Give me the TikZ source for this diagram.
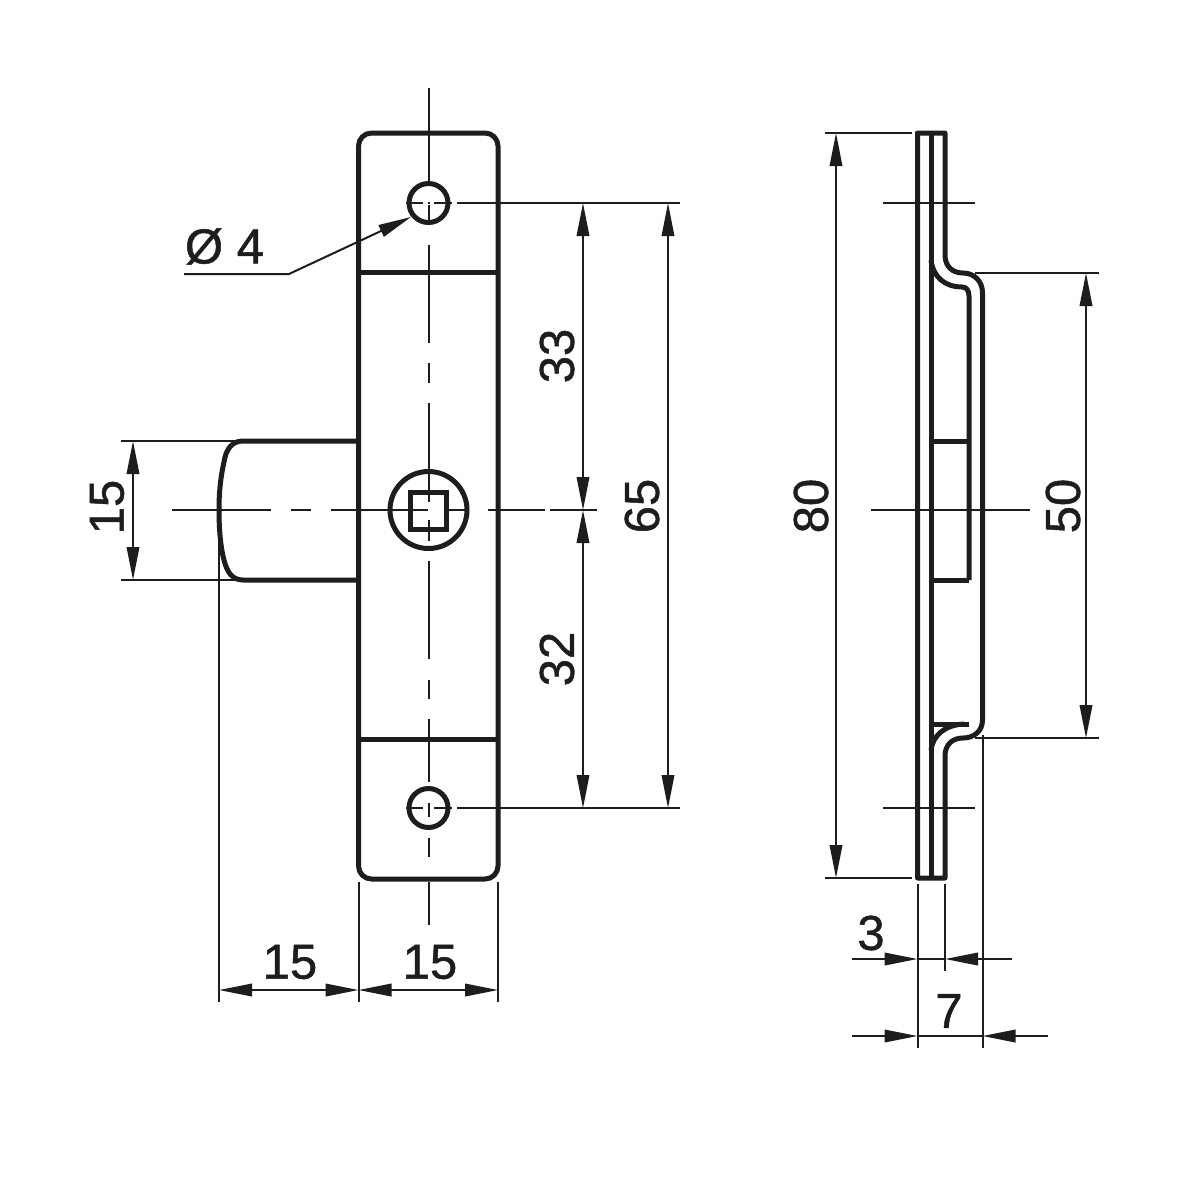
\documentclass[tikz,border=0pt]{standalone}
\usepackage{fontspec}
\setmainfont{Liberation Sans}[BoldFont=Liberation Sans,BoldFeatures={FakeBold=1}]
\usetikzlibrary{arrows.meta}
\tikzset{
  thin line/.style={line width=2pt,draw=ink},
  thick line/.style={line width=5pt,draw=ink,line join=round},
  dimline/.style={thin line,{Triangle[length=33pt,width=12.5pt,fill=ink]}-{Triangle[length=33pt,width=12.5pt,fill=ink]}},
  endarrow/.style={thin line,-{Triangle[length=33pt,width=12.5pt,fill=ink]}},
  label/.style={font=\fontsize{49}{49}\selectfont\bfseries,text=ink,inner sep=0pt},
}
\definecolor{ink}{HTML}{1D1D1F}
\begin{document}
\begin{tikzpicture}[x=1pt,y=-1pt]
\useasboundingbox[fill=white] (0,0) rectangle (1200,1200);

% named reference points
\coordinate (holeT) at (428.5,203);
\coordinate (holeB) at (428.5,808);
\coordinate (hub) at (428.5,510);

% ---------- front view: centre lines ----------
\foreach \a/\b in {88/182, 205/221, 245/343, 363/383, 403/502, 520/541, 561/659, 680/699, 719/782, 803/817, 838/857, 882/925}
  \draw[thin line] (428.5,\a) -- (428.5,\b);
\foreach \a/\b in {172/271, 291/311, 331/428, 448/465, 488/545, 550/597}
  \draw[thin line] (\a,510) -- (\b,510);
\foreach \y in {203,808}{
  \draw[thin line] (406,\y) -- (423,\y);
  \draw[thin line] (427.5,\y) -- (430,\y);
  \draw[thin line] (434,\y) -- (452,\y);
  \draw[thin line] (457,\y) -- (680,\y);
}

% ---------- front view: outlines ----------
\draw[thick line,rounded corners=13pt] (358.5,133) rectangle (498,879);
\draw[thick line] (358.5,272) -- (498,272);
\draw[thick line] (358.5,739) -- (498,739);
\draw[thick line] (holeT) circle (19.5);
\draw[thick line] (holeB) circle (19.5);
\draw[thick line] (hub) circle (38.5);
\draw[thick line,line join=miter] (410.5,492) rectangle (446.5,529);
\draw[thick line] (358.5,441) -- (243,441)
  .. controls (232,441) and (226,449) .. (224,462)
  .. controls (220,480) and (219,495) .. (219,510)
  .. controls (219,525) and (220,545) .. (224,560)
  .. controls (227,572) and (232,580) .. (243,580)
  -- (358.5,580);

% ---------- front view: dimensions ----------
\draw[thin line] (121,441) -- (240,441);
\draw[thin line] (121,580) -- (240,580);
\draw[thin line] (219,512) -- (219,1002);
\draw[thin line] (358.5,882) -- (358.5,1002);
\draw[thin line] (498,882) -- (498,1002);
\draw[dimline] (133,441) -- (133,580);
\draw[dimline] (583,203) -- (583,510);
\draw[dimline] (583,510) -- (583,808);
\draw[dimline] (668,203) -- (668,808);
\draw[dimline] (219,990) -- (358.5,990);
\draw[dimline] (358.5,990) -- (498,990);
\coordinate (leadA) at (184,274);
\coordinate (leadB) at (289,274);
\coordinate (leadC) at (411,217);
\draw[endarrow] (leadA) -- (leadB) -- (leadC);

\node[label] (dia) at (224.5,246.5) {Ø 4};
\node[label,rotate=90] (d33) at (557,356) {33};
\node[label,rotate=90] (d32) at (557,659) {32};
\node[label,rotate=90] (d65) at (642,506) {65};
\node[label,rotate=90] (d15v) at (107,507) {15};
\node[label] (d15a) at (290,962) {15};
\node[label] (d15b) at (430,962) {15};

% ---------- side view: centre lines and extensions ----------
\draw[thin line] (871,510) -- (1030,510);
\draw[thin line] (883,203) -- (975,203);
\draw[thin line] (883,808) -- (975,808);
\draw[thin line] (825,133) -- (912,133);
\draw[thin line] (825,878) -- (912,878);
\draw[thin line] (975,273) -- (1099,273);
\draw[thin line] (975,738) -- (1099,738);
\draw[thin line] (917.5,884) -- (917.5,1048);
\draw[thin line] (945,884) -- (945,971);
\draw[thin line] (982.5,735) -- (982.5,1048);

% ---------- side view: outlines ----------
\draw[thick line] (917.5,133) -- (945,133) -- (945,255)
  .. controls (945,266) and (952,273) .. (963,273)
  .. controls (974,273) and (982.5,281) .. (982.5,293)
  -- (982.5,720)
  .. controls (982.5,731) and (974,738) .. (963,738)
  .. controls (952,738) and (945,745) .. (945,756)
  -- (945,878) -- (917.5,878) -- cycle;
\draw[thick line] (931,133) -- (931,878);
\draw[thick line] (931,260)
  .. controls (933,277) and (945,287) .. (962,287)
  .. controls (966,287) and (969,290) .. (969,296)
  -- (969,580);
\draw[thick line] (931,441) -- (969,441);
\draw[thick line] (931,580) -- (969,580);
\draw[thick line] (931,724) -- (969,724);
\draw[thick line] (931,750)
  .. controls (933,735) and (945,725) .. (964,724);

% ---------- side view: dimensions ----------
\draw[dimline] (836,133) -- (836,878);
\draw[dimline] (1086,273) -- (1086,738);
\coordinate (a1) at (852,959);
\coordinate (a2) at (917.5,959);
\coordinate (a3) at (945,959);
\coordinate (a4) at (1012,959);
\coordinate (b1) at (852,1036);
\coordinate (b2) at (917.5,1036);
\coordinate (b3) at (982.5,1036);
\coordinate (b4) at (1048,1036);
\draw[endarrow] (a1) -- (a2);
\draw[endarrow] (a4) -- (a3);
\draw[thin line] (a2) -- (a3);
\draw[endarrow] (b1) -- (b2);
\draw[endarrow] (b4) -- (b3);
\draw[thin line] (b2) -- (b3);

\node[label,rotate=90] (d80) at (811,506) {80};
\node[label,rotate=90] (d50) at (1063,506) {50};
\node[label] (d3) at (871,933) {3};
\node[label] (d7) at (949,1011) {7};
\end{tikzpicture}
\end{document}
